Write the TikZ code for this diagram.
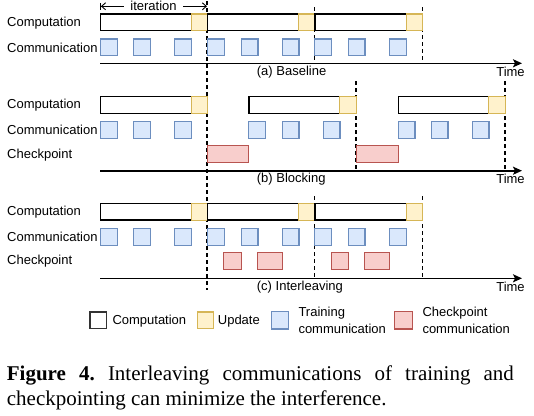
\documentclass[tikz,border=0pt]{standalone}
\usepackage{fontspec}
\setmainfont{Liberation Serif}
\newfontfamily\labfont{Liberation Sans}
\usetikzlibrary{arrows.meta}
\definecolor{yfill}{HTML}{FFF2CC}\definecolor{ydraw}{HTML}{D6B656}
\definecolor{bfill}{HTML}{DAE8FC}\definecolor{bdraw}{HTML}{6C8EBF}
\definecolor{rfill}{HTML}{F8CECC}\definecolor{rdraw}{HTML}{B85450}
\frenchspacing
\begin{document}
\begin{tikzpicture}[x=1pt,y=-1pt,
 lab/.style={font=\labfont\fontsize{13}{16.6}\selectfont, inner sep=0, anchor=west},
 comp/.style={draw=black, fill=white, line width=1.4pt, inner sep=0, minimum height=16.7pt, anchor=west},
 upd/.style={draw=ydraw, fill=yfill, line width=1.1pt, inner sep=0, minimum height=16.7pt, minimum width=16.6pt, anchor=west},
 comm/.style={draw=bdraw, fill=bfill, line width=1.1pt, inner sep=0, minimum size=16.7pt, anchor=west},
 ckpt/.style={draw=rdraw, fill=rfill, line width=1.1pt, inner sep=0, minimum height=17pt, anchor=west},
 axis/.style={line width=1.6pt, -{Stealth[length=9pt,width=8pt,inset=2pt]}},
 guide/.style={line width=1.1pt, dash pattern=on 4pt off 3pt},
]
\useasboundingbox (0,0) rectangle (534,415);

% ---------- dashed guides ----------
\coordinate (g0t) at (207,1); \coordinate (g0b) at (207,290);
\draw[guide] (g0t) -- (g0b);
\coordinate (ga1t) at (314.3,7); \coordinate (ga1b) at (314.3,63.3);
\coordinate (ga2t) at (422.3,7); \coordinate (ga2b) at (422.3,63.3);
\coordinate (gb1t) at (356,81); \coordinate (gb1b) at (356,170.7);
\coordinate (gb2t) at (505,81); \coordinate (gb2b) at (505,170.7);
\coordinate (gc1t) at (314.3,196); \coordinate (gc1b) at (314.3,278.3);
\coordinate (gc2t) at (422.3,196); \coordinate (gc2b) at (422.3,278.3);
\draw[guide] (ga1t) -- (ga1b); \draw[guide] (ga2t) -- (ga2b);
\draw[guide] (gb1t) -- (gb1b); \draw[guide] (gb2t) -- (gb2b);
\draw[guide] (gc1t) -- (gc1b); \draw[guide] (gc2t) -- (gc2b);

% ---------- iteration arrow ----------
\coordinate (itl) at (100,6.3); \coordinate (itr) at (207,6.3);
\draw[line width=0.9pt, {Bar[width=7pt]Straight Barb[length=4pt,width=7pt]}-{Straight Barb[length=4pt,width=7pt]}]
  (itl) -- node[lab, anchor=center, fill=white, inner xsep=6pt, inner ysep=1pt] (itlab) {iteration} (itr);

% ---------- panel (a) ----------
\node[lab] (a-lc) at (7,22.8) {Computation};
\node[lab] (a-lm) at (7,47.8) {Communication};
\node[comp, minimum width=90.7pt] (a-c1) at (100,22.3) {};
\node[upd] (a-u1) at (190.7,22.3) {};
\node[comp, minimum width=90.7pt] (a-c2) at (207,22.3) {};
\node[upd] (a-u2) at (297.7,22.3) {};
\node[comp, minimum width=91.4pt] (a-c3) at (314.3,22.3) {};
\node[upd] (a-u3) at (405.7,22.3) {};
\foreach \x [count=\i] in {100,133,174,207,240.7,281.7,314.3,347.7,389.3}
  \node[comm] (a-m\i) at (\x,47.3) {};
\coordinate (a-ax0) at (100,63.3); \coordinate (a-ax1) at (522,63.3);
\draw[axis] (a-ax0) -- (a-ax1);
\node[lab] (a-cap) at (256.7,72) {(a) Baseline};
\node[lab, anchor=center] (a-time) at (510.5,72) {Time};

% ---------- panel (b) ----------
\node[lab] (b-lc) at (7,105.5) {Computation};
\node[lab] (b-lm) at (7,130.2) {Communication};
\node[lab] (b-lk) at (7,154.8) {Checkpoint};
\node[comp, minimum width=90.7pt] (b-c1) at (100,105) {};
\node[upd] (b-u1) at (190.7,105) {};
\node[comp, minimum width=91pt] (b-c2) at (248.3,105) {};
\node[upd] (b-u2) at (339.3,105) {};
\node[comp, minimum width=90.6pt] (b-c3) at (397.7,105) {};
\node[upd] (b-u3) at (488.3,105) {};
\foreach \x [count=\i] in {100,133,174,248.3,281.7,322.7,397.7,430.7,471.7}
  \node[comm] (b-m\i) at (\x,129.7) {};
\node[ckpt, minimum width=41.3pt] (b-k1) at (207,154.3) {};
\node[ckpt, minimum width=41.7pt] (b-k2) at (356,154.3) {};
\coordinate (b-ax0) at (100,170.7); \coordinate (b-ax1) at (522,170.7);
\draw[axis] (b-ax0) -- (b-ax1);
\node[lab] (b-cap) at (256.7,179.3) {(b) Blocking};
\node[lab, anchor=center] (b-time) at (510.5,179.3) {Time};

% ---------- panel (c) ----------
\node[lab] (c-lc) at (7,212.2) {Computation};
\node[lab] (c-lm) at (7,237.2) {Communication};
\node[lab] (c-lk) at (7,261.5) {Checkpoint};
\node[comp, minimum width=90.7pt] (c-c1) at (100,211.7) {};
\node[upd] (c-u1) at (190.7,211.7) {};
\node[comp, minimum width=90.7pt] (c-c2) at (207,211.7) {};
\node[upd] (c-u2) at (297.7,211.7) {};
\node[comp, minimum width=91.4pt] (c-c3) at (314.3,211.7) {};
\node[upd] (c-u3) at (405.7,211.7) {};
\foreach \x [count=\i] in {100,133,174,207,240.7,281.7,314.3,347.7,389.3}
  \node[comm] (c-m\i) at (\x,236.7) {};
\node[ckpt, minimum width=17.4pt] (c-k1) at (223.3,261) {};
\node[ckpt, minimum width=25.6pt] (c-k2) at (256.7,261) {};
\node[ckpt, minimum width=17.3pt] (c-k3) at (331,261) {};
\node[ckpt, minimum width=25pt] (c-k4) at (364.3,261) {};
\coordinate (c-ax0) at (100,278.3); \coordinate (c-ax1) at (522,278.3);
\draw[axis] (c-ax0) -- (c-ax1);
\node[lab] (c-cap) at (256.7,287.3) {(c) Interleaving};
\node[lab, anchor=center] (c-time) at (510.5,287.3) {Time};

% ---------- legend ----------
\node[comp, minimum width=16.4pt, draw=black!80] (l-c) at (89.3,320.3) {};
\node[lab] (l-ct) at (112.3,320.8) {Computation};
\node[upd] (l-u) at (196.7,320.3) {};
\node[lab] (l-ut) at (217.7,320.8) {Update};
\node[comm, minimum size=17.3pt] (l-m) at (271,320.3) {};
\node[lab, align=left] (l-mt) at (298.3,320.3) {Training\\communication};
\node[ckpt, minimum width=18pt, minimum height=17.3pt] (l-k) at (394.3,320.3) {};
\node[lab, align=left] (l-kt) at (422.3,320.3) {Checkpoint\\communication};

% ---------- caption ----------
\node[anchor=north west, inner sep=0, text width=507pt, align=justify,
      font=\fontsize{21}{24.5}\selectfont] (cap) at (6.7,366)
 {\textbf{Figure 4.} Interleaving communications of training and checkpointing can minimize the interference.};
\end{tikzpicture}
\end{document}
